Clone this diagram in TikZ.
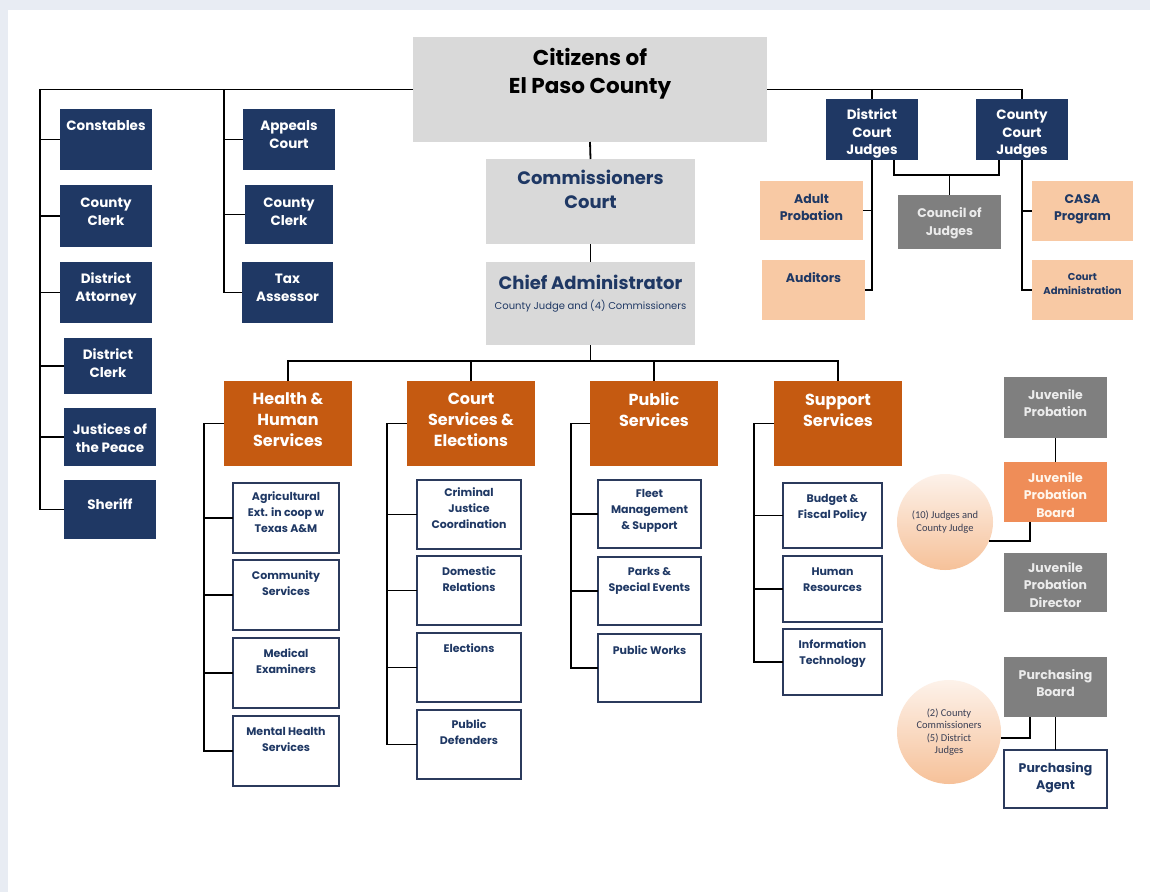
\documentclass[tikz,border=0pt]{standalone}
\usepackage{fontspec}
\setmainfont{Poppins}
\newfontfamily\calib{Carlito}
\usetikzlibrary{calc}
\definecolor{navy}{HTML}{1F3864}
\definecolor{subline}{HTML}{2B3A5C}
\definecolor{lgray}{HTML}{D9D9D9}
\definecolor{orng}{HTML}{C55A11}
\definecolor{peach}{HTML}{F8C9A4}
\definecolor{dgray}{HTML}{7F7F7F}
\definecolor{jborange}{HTML}{EF8D58}
\definecolor{bgband}{HTML}{E8ECF3}
\definecolor{circtop}{HTML}{FDF2EA}
\definecolor{circbot}{HTML}{F6C199}
\definecolor{circtext}{HTML}{3A3F55}
\newcommand\bx[8]{%
\node[#1, anchor=north west, inner sep=0pt, outer sep=0pt] (#2) at (#3,#4)
 {\parbox[t][\dimexpr #6pt-#4pt\relax][t]{\dimexpr #5pt-#3pt\relax}{\centering\vspace*{#7pt}\strut#8\par}};}
\tikzset{
 nv/.style={fill=navy, text=white, font=\fontsize{13.5}{17.5}\selectfont\bfseries},
 citz/.style={fill=lgray, text=black, font=\fontsize{21.5}{28}\selectfont\bfseries},
 comz/.style={fill=lgray, text=navy, font=\fontsize{18}{24}\selectfont\bfseries},
 og/.style={fill=orng, text=white, font=\fontsize{16}{21}\selectfont\bfseries},
 sb/.style={fill=white, draw=subline, line width=1.6pt, text=navy, font=\fontsize{11}{16}\selectfont\bfseries},
 pc/.style={fill=peach, text=navy, font=\fontsize{12.5}{17}\selectfont\bfseries},
 pcs/.style={fill=peach, text=navy, font=\fontsize{10}{14}\selectfont\bfseries},
 gy/.style={fill=dgray, text=white!92!black, font=\fontsize{12.5}{17.5}\selectfont\bfseries},
 jb/.style={fill=jborange, text=white!92!orange, font=\fontsize{12.5}{17.5}\selectfont\bfseries},
 pa/.style={fill=white, draw=subline, line width=1.6pt, text=navy, font=\fontsize{12.5}{17.5}\selectfont\bfseries},
 circ/.style={circle, inner sep=0pt, top color=circtop, bottom color=circbot, draw=none, text=circtext, align=center, font=\calib\fontsize{10.5}{12.5}\selectfont},
 conn/.style={draw=black, line width=1.8pt},
}
\begin{document}
\begin{tikzpicture}[x=1pt,y=-1pt]
\useasboundingbox (0,0) rectangle (1150,892);
\fill[white] (0,0) rectangle (1150,892);
\fill[bgband] (0,0) rectangle (1150,10);
\fill[bgband] (0,0) rectangle (8,892);

% top
\bx{citz}{cit}{413}{37}{767}{142}{8.9}{Citizens of\\El Paso County}
\bx{comz}{comm}{486}{159}{695}{244}{8.5}{Commissioners\\Court}
\bx{comz}{chief}{486}{262}{695}{345}{10.5}{Chief Administrator\\[-3.8pt]{\fontsize{10}{12}\selectfont\mdseries County Judge and (4) Commissioners}}

% left columns
\bx{nv}{const}{60}{109}{152}{170}{9.3}{Constables}
\bx{nv}{cclk}{60}{185}{152}{247}{10.3}{County\\Clerk}
\bx{nv}{da}{60}{262}{152}{323}{9.3}{District\\Attorney}
\bx{nv}{dclk}{64}{338}{152}{394}{9.4}{District\\Clerk}
\bx{nv}{jop}{64}{408}{156}{466}{14.4}{Justices of\\the Peace}
\bx{nv}{sher}{64}{480}{156}{539}{17.4}{Sheriff}
\bx{nv}{apc}{243}{109}{335}{170}{9.3}{Appeals\\Court}
\bx{nv}{cclkb}{245}{185}{333}{244}{10.3}{County\\Clerk}
\bx{nv}{tax}{242}{262}{333}{323}{9.3}{Tax\\Assessor}

% judges
\bx{nv}{dcj}{826}{99}{918}{160}{8.4}{District\\Court\\Judges}
\bx{nv}{ccj}{976}{99}{1068}{160}{8.4}{County\\Court\\Judges}
\bx{pc}{adpr}{760}{181}{863}{240}{10.5}{Adult\\Probation}
\bx{pc}{aud}{762}{260}{865}{320}{10.5}{Auditors}
\bx{pc}{casa}{1032}{181}{1133}{241}{10.5}{CASA\\Program}
\bx{pcs}{cadm}{1032}{260}{1133}{320}{10.7}{Court\\Administration}
\bx{gy}{coun}{898}{195}{1001}{249}{10.5}{Council of\\Judges}

% departments
\bx{og}{hhs}{224}{381}{352}{466}{8.9}{Health \&\\Human\\Services}
\bx{og}{crt}{407}{381}{535}{466}{8.9}{Court\\Services \&\\Elections}
\bx{og}{pub}{590}{381}{718}{466}{9.9}{Public\\Services}
\bx{og}{sup}{774}{381}{902}{466}{9.9}{Support\\Services}

\bx{sb}{agr}{233}{483}{339}{553}{6.7}{Agricultural\\Ext. in coop w\\Texas A\&M}
\bx{sb}{comsv}{233}{560}{339}{630}{8.7}{Community\\Services}
\bx{sb}{medx}{233}{638}{339}{708}{8.7}{Medical\\Examiners}
\bx{sb}{mhs}{233}{716}{339}{786}{8.7}{Mental Health\\Services}
\bx{sb}{cjc}{417}{480}{521}{549}{5.7}{Criminal\\Justice\\Coordination}
\bx{sb}{domr}{417}{556}{521}{625}{8.7}{Domestic\\Relations}
\bx{sb}{elec}{417}{633}{521}{702}{8.7}{Elections}
\bx{sb}{pdef}{417}{710}{521}{779}{7.7}{Public\\Defenders}
\bx{sb}{fleet}{598}{480}{701}{548}{6.7}{Fleet\\Management\\\& Support}
\bx{sb}{parks}{598}{557}{701}{625}{7.7}{Parks \&\\Special Events}
\bx{sb}{pworks}{598}{634}{701}{702}{9.7}{Public Works}
\bx{sb}{budg}{783}{483}{882}{548}{8.7}{Budget \&\\Fiscal Policy}
\bx{sb}{hres}{783}{556}{882}{622}{8.7}{Human\\Resources}
\bx{sb}{itec}{783}{629}{882}{695}{8.7}{Information\\Technology}

% juvenile / purchasing
\bx{gy}{jpr}{1004}{377}{1107}{438}{10.2}{Juvenile\\Probation}
\bx{jb}{jpb}{1004}{462}{1107}{522}{8.2}{Juvenile\\Probation\\Board}
\bx{gy}{jpd}{1004}{553}{1107}{612}{7.2}{Juvenile\\Probation\\Director}
\bx{gy}{pbd}{1004}{657}{1107}{717}{10.2}{Purchasing\\Board}
\bx{pa}{pag}{1004}{750}{1107}{808}{10.2}{Purchasing\\Agent}
\node[circ, minimum size=96pt] (cja) at (945,522) {(10) Judges and\\County Judge};
\node[circ, minimum size=104pt] (cjb) at (949,732) {(2) County\\Commissioners\\(5) District\\Judges};

% connectors
\coordinate (trunkL) at (40,89.5);
\coordinate (trunkM) at (224,89.5);
\draw[conn] (cit.west) -- (trunkL) |- (sher.west);
\draw[conn] (trunkL) |- (const.west);
\draw[conn] (trunkL) |- (cclk.west);
\draw[conn] (trunkL) |- (da.west);
\draw[conn] (trunkL) |- (dclk.west);
\draw[conn] (trunkL) |- (jop.west);
\draw[conn] (trunkM) |- (apc.west);
\draw[conn] (trunkM) |- (cclkb.west);
\draw[conn] (trunkM) |- (tax.west);

\draw[conn] (cit.east) -| (dcj.north);
\draw[conn] (cit.east) -| (ccj.north);
\draw[conn] (dcj.south) |- (adpr.east);
\draw[conn] (dcj.south) |- (aud.east);
\draw[conn] (ccj.south) |- (casa.west);
\draw[conn] (ccj.south) |- (cadm.west);
\coordinate (cbar) at (949.5,175);
\draw[conn] ([xshift=22pt]dcj.south) |- (cbar) -| ([xshift=-23pt]ccj.south);
\draw[conn] (cbar) -- (coun.north);

\draw[conn] (cit.south) -- (comm.north);
\draw[conn] (comm.south) -- (chief.north);
\coordinate (dbar) at (590.5,361);
\draw[conn] (chief.south) -- (dbar);
\draw[conn] (hhs.north) |- (dbar) -| (sup.north);
\draw[conn] (crt.north) -- (crt.north |- dbar);
\draw[conn] (pub.north) -- (pub.north |- dbar);

\coordinate (hT) at (204,423.5);
\draw[conn] (hhs.west) -- (hT) |- (mhs.west);
\draw[conn] (hT) |- (agr.west);
\draw[conn] (hT) |- (comsv.west);
\draw[conn] (hT) |- (medx.west);
\coordinate (cT) at (387,423.5);
\draw[conn] (crt.west) -- (cT) |- (pdef.west);
\draw[conn] (cT) |- (cjc.west);
\draw[conn] (cT) |- (domr.west);
\draw[conn] (cT) |- (elec.west);
\coordinate (pT) at (571,423.5);
\draw[conn] (pub.west) -- (pT) |- (pworks.west);
\draw[conn] (pT) |- (fleet.west);
\draw[conn] (pT) |- (parks.west);
\coordinate (sT) at (754,423.5);
\draw[conn] (sup.west) -- (sT) |- (itec.west);
\draw[conn] (sT) |- (budg.west);
\draw[conn] (sT) |- (hres.west);

\draw[conn] (jpr.south) -- (jpb.north);
\draw[conn] (cja.-23) -| ([xshift=-25.5pt]jpb.south);
\draw[conn] (pbd.south) -- (pag.north);
\draw[conn] (cjb.-7) -| ([xshift=-25.5pt]pbd.south);
\end{tikzpicture}
\end{document}
